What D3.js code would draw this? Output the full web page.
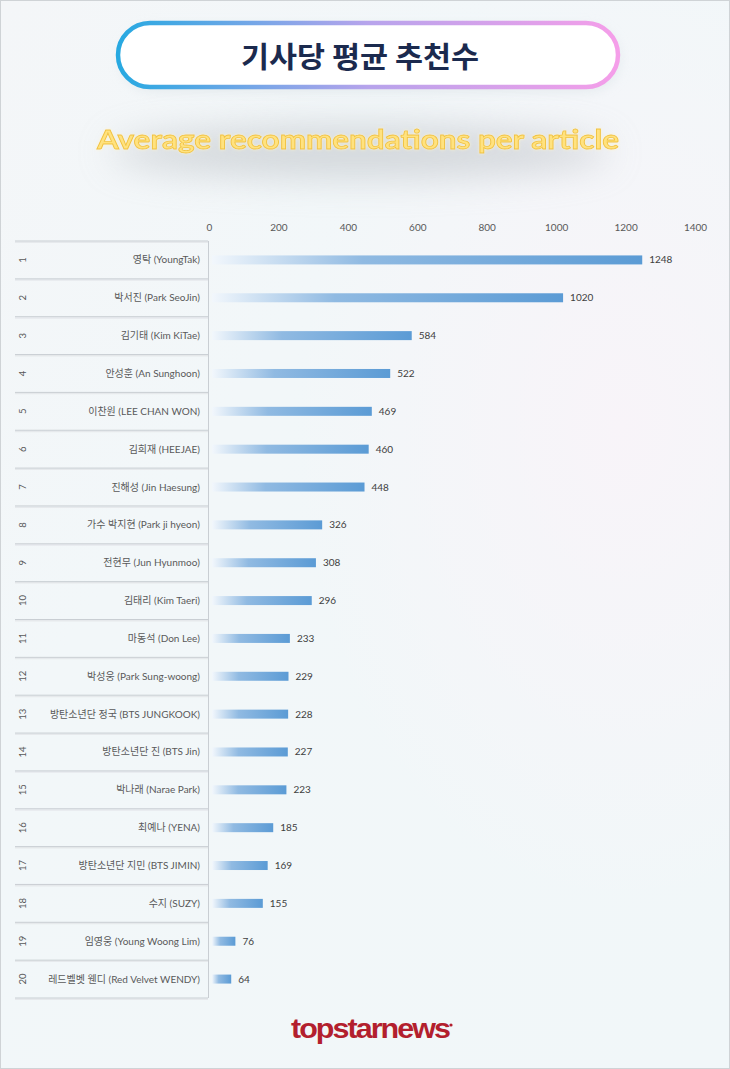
<!DOCTYPE html>
<html><head><meta charset="utf-8">
<script src="https://cdn.jsdelivr.net/npm/d3@7"></script>
<style>
html,body{margin:0;padding:0;background:#fff;}
svg{display:block;}
</style></head>
<body>
<script>
const ranks = ["1","2","3","4","5","6","7","8","9","10","11","12","13","14","15","16","17","18","19","20"];
const names = ["영탁 (YoungTak)","박서진 (Park SeoJin)","김기태 (Kim KiTae)","안성훈 (An Sunghoon)","이찬원 (LEE CHAN WON)","김희재 (HEEJAE)","진해성 (Jin Haesung)","가수 박지현 (Park ji hyeon)","전현무 (Jun Hyunmoo)","김태리 (Kim Taeri)","마동석 (Don Lee)","박성웅 (Park Sung-woong)","방탄소년단 정국 (BTS JUNGKOOK)","방탄소년단 진 (BTS Jin)","박나래 (Narae Park)","최예나 (YENA)","방탄소년단 지민 (BTS JIMIN)","수지 (SUZY)","임영웅 (Young Woong Lim)","레드벨벳 웬디 (Red Velvet WENDY)"];
const values = [1248,1020,584,522,469,460,448,326,308,296,233,229,228,227,223,185,169,155,76,64];
const ticks = [0,200,400,600,800,1000,1200,1400];
const titleKo = "기사당 평균 추천수";
const titleEn = "Average recommendations per article";
const brand = "topstarnews";

const W = 730, H = 1069;
const svg = d3.select("body").append("svg").attr("width", W).attr("height", H);
const defs = svg.append("defs");

// background
const bg = defs.append("linearGradient").attr("id","bg").attr("x1",0).attr("y1",0).attr("x2",1).attr("y2",1);
bg.append("stop").attr("offset","0%").attr("stop-color","#f4f6f8");
bg.append("stop").attr("offset","35%").attr("stop-color","#f2f7f9");
bg.append("stop").attr("offset","100%").attr("stop-color","#f1f7f9");
svg.append("rect").attr("width",W).attr("height",H).attr("fill","url(#bg)");
const pinkR = defs.append("radialGradient").attr("id","pinkR").attr("cx","85%").attr("cy","40%").attr("r","45%");
pinkR.append("stop").attr("offset","0%").attr("stop-color","#f8f4f9").attr("stop-opacity",1);
pinkR.append("stop").attr("offset","100%").attr("stop-color","#f8f4f9").attr("stop-opacity",0);
svg.append("rect").attr("width",W).attr("height",H).attr("fill","url(#pinkR)");
svg.append("rect").attr("x",0.5).attr("y",0.5).attr("width",W-1).attr("height",H-1)
  .attr("fill","none").attr("stroke","#cfd3d6");

// title pill
const pg = defs.append("linearGradient").attr("id","pill").attr("x1",0).attr("x2",1);
pg.append("stop").attr("offset","0%").attr("stop-color","#27a9e1");
pg.append("stop").attr("offset","50%").attr("stop-color","#b7a4ec");
pg.append("stop").attr("offset","100%").attr("stop-color","#f59ee9");
const sh = defs.append("filter").attr("id","soft").attr("x","-20%").attr("y","-50%").attr("width","140%").attr("height","200%");
sh.append("feGaussianBlur").attr("stdDeviation",6);
svg.append("rect").attr("x",120).attr("y",26).attr("width",500).attr("height",66).attr("rx",33)
  .attr("fill","#dfe6ea").attr("filter","url(#soft)").attr("opacity",0.7);
svg.append("rect").attr("x",118).attr("y",23).attr("width",500).attr("height",64).attr("rx",32)
  .attr("fill","#ffffff").attr("stroke","url(#pill)").attr("stroke-width",4.5);
svg.append("text").attr("x",360).attr("y",68).attr("text-anchor","middle")
  .attr("font-family","'Noto Sans CJK KR'").attr("font-weight",700).attr("font-size",29)
  .attr("fill","#1b2a4e").attr("textLength",238).attr("lengthAdjust","spacingAndGlyphs").text(titleKo);

// subtitle with gray glow
const gb = defs.append("filter").attr("id","glowbg").attr("x","-30%").attr("y","-100%").attr("width","160%").attr("height","300%");
gb.append("feGaussianBlur").attr("stdDeviation",18);
svg.append("ellipse").attr("cx",360).attr("cy",152).attr("rx",250).attr("ry",26)
  .attr("fill","#b9bec3").attr("opacity",0.55).attr("filter","url(#glowbg)");
const yg = defs.append("filter").attr("id","yglow").attr("x","-10%").attr("y","-50%").attr("width","120%").attr("height","200%");
yg.append("feGaussianBlur").attr("in","SourceAlpha").attr("stdDeviation",1.5).attr("result","b");
yg.append("feFlood").attr("flood-color","#fff6c8").attr("flood-opacity",0.9);
yg.append("feComposite").attr("in2","b").attr("operator","in").attr("result","g");
const ym = yg.append("feMerge"); ym.append("feMergeNode").attr("in","g"); ym.append("feMergeNode").attr("in","SourceGraphic");
svg.append("text").attr("x",358).attr("y",149).attr("text-anchor","middle")
  .attr("font-family","Lato").attr("font-weight",700).attr("font-size",27)
  .attr("fill","#ffe27f").attr("stroke","#f1c23d").attr("stroke-width",0.8)
  .attr("textLength",522).attr("lengthAdjust","spacingAndGlyphs")
  .attr("filter","url(#yglow)").text(titleEn);

// scales
const x = d3.scaleLinear().domain([0,1400]).range([209,695]);
const y = d3.scaleBand().domain(names).range([241,998]).padding(0);

// axis
const ax = svg.append("g").attr("transform","translate(0,233)")
  .call(d3.axisTop(x).tickValues(ticks).tickSize(0).tickPadding(2).tickFormat(d3.format("d")));
ax.select(".domain").remove();
ax.selectAll("text").attr("font-family","Lato").attr("font-size",10).attr("fill","#595959");

// table lines
const tbl = svg.append("g");
const bounds = names.map(n => y(n)).concat([998]);
tbl.selectAll("line.h").data(bounds).join("line").attr("class","h")
  .attr("x1",15).attr("x2",208).attr("y1",d=>d+1.2).attr("y2",d=>d+1.2)
  .attr("stroke","#e6e9ec").attr("stroke-width",1.5);
tbl.selectAll("line.h2").data(bounds).join("line").attr("class","h2")
  .attr("x1",15).attr("x2",208).attr("y1",d=>d).attr("y2",d=>d)
  .attr("stroke","#c9ced3").attr("stroke-width",1);
tbl.append("line").attr("x1",208.5).attr("x2",208.5).attr("y1",241).attr("y2",998)
  .attr("stroke","#c9ced3").attr("stroke-width",1);

// labels
svg.append("g").selectAll("text").data(names).join("text")
  .attr("x",200).attr("y",d=>y(d)+y.bandwidth()/2).attr("dy","0.35em")
  .attr("text-anchor","end").attr("font-family","Lato, 'Noto Sans CJK KR'").attr("font-size",10)
  .attr("fill","#595959").text(d=>d);
svg.append("g").selectAll("text").data(ranks).join("text")
  .attr("transform",(d,i)=>`translate(23,${y(names[i])+y.bandwidth()/2}) rotate(-90)`)
  .attr("text-anchor","middle").attr("dy","0.35em")
  .attr("font-family","Lato").attr("font-size",9.5).attr("fill","#595959").text(d=>d);

// bars
const bgGrad = defs.append("linearGradient").attr("id","bar").attr("x1",0).attr("x2",1);
bgGrad.append("stop").attr("offset","0%").attr("stop-color","#f2f7fc");
bgGrad.append("stop").attr("offset","35%").attr("stop-color","#90bae2");
bgGrad.append("stop").attr("offset","100%").attr("stop-color","#5b9bd5");
svg.append("g").selectAll("rect").data(values).join("rect")
  .attr("x",x(0)+3).attr("y",(d,i)=>y(names[i])+y.bandwidth()/2-4.5)
  .attr("width",d=>x(d)-x(0)-3).attr("height",9).attr("fill","url(#bar)");
svg.append("g").selectAll("text").data(values).join("text")
  .attr("x",d=>x(d)+7).attr("y",(d,i)=>y(names[i])+y.bandwidth()/2).attr("dy","0.35em")
  .attr("font-family","Lato").attr("font-size",10).attr("fill","#404040").text(d=>d);

// brand
svg.append("text").attr("x",370).attr("y",1038).attr("text-anchor","middle")
  .attr("font-family","'Liberation Sans'").attr("font-weight",700).attr("font-size",28)
  .attr("fill","#b31f2e").attr("letter-spacing",-1.8)
  .attr("textLength",158).attr("lengthAdjust","spacingAndGlyphs").text(brand);
svg.append("circle").attr("cx",451).attr("cy",1025).attr("r",1.6).attr("fill","#b31f2e");
</script>
</body></html>
